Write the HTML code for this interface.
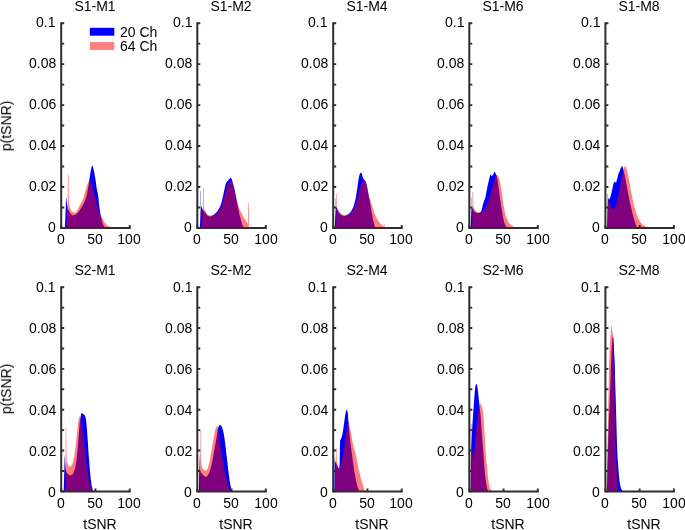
<!DOCTYPE html>
<html><head><meta charset="utf-8"><title>tSNR histograms</title>
<style>
html,body{margin:0;padding:0;background:#fff;}
body{width:685px;height:530px;position:relative;overflow:hidden;font-family:"Liberation Sans",sans-serif;}
.t{position:absolute;font-size:14.00px;line-height:16px;will-change:transform;color:#000;white-space:nowrap;}
</style></head><body>
<svg width="685" height="530" viewBox="0 0 685 530" style="position:absolute;left:0;top:0">
<path d="M64.97,227.90 L64.97,227.68 L65.22,220.06 L65.47,213.12 L65.70,207.41 L65.72,206.85 L65.97,200.03 L66.20,196.89 L66.22,196.91 L66.47,198.95 L66.72,202.16 L66.80,202.92 L66.97,204.44 L67.22,206.44 L67.40,207.41 L67.47,207.67 L67.72,208.43 L67.97,209.01 L68.22,209.50 L68.47,209.98 L68.50,210.04 L68.72,210.48 L68.97,210.97 L69.22,211.43 L69.47,211.87 L69.72,212.29 L69.97,212.66 L70.21,212.98 L70.22,213.00 L70.47,213.34 L70.72,213.69 L70.97,214.03 L71.22,214.36 L71.47,214.65 L71.72,214.91 L71.97,215.11 L72.22,215.25 L72.47,215.30 L72.50,215.30 L72.72,215.30 L72.97,215.28 L73.22,215.26 L73.47,215.23 L73.72,215.19 L73.97,215.15 L74.22,215.10 L74.47,215.04 L74.71,214.99 L74.72,214.99 L74.97,214.91 L75.22,214.80 L75.47,214.66 L75.72,214.49 L75.97,214.31 L76.22,214.11 L76.47,213.90 L76.72,213.68 L76.97,213.46 L77.00,213.44 L77.22,213.24 L77.47,213.00 L77.72,212.74 L77.97,212.47 L78.22,212.18 L78.47,211.88 L78.72,211.56 L78.97,211.24 L79.22,210.90 L79.47,210.55 L79.72,210.19 L79.97,209.82 L80.22,209.44 L80.47,209.06 L80.72,208.66 L80.97,208.26 L81.22,207.86 L81.47,207.45 L81.50,207.41 L81.72,207.04 L81.97,206.62 L82.22,206.20 L82.47,205.77 L82.72,205.32 L82.97,204.87 L83.22,204.40 L83.47,203.92 L83.72,203.42 L83.97,202.89 L84.22,202.35 L84.47,201.78 L84.72,201.19 L84.97,200.56 L85.22,199.91 L85.47,199.23 L85.72,198.51 L85.80,198.28 L85.97,197.74 L86.22,196.88 L86.47,195.94 L86.72,194.91 L86.97,193.81 L87.22,192.63 L87.47,191.40 L87.72,190.10 L87.97,188.76 L88.22,187.37 L88.29,186.98 L88.47,185.87 L88.72,184.12 L88.97,182.27 L89.22,180.47 L89.27,180.17 L89.47,178.79 L89.72,177.11 L89.97,175.48 L90.22,173.94 L90.35,173.21 L90.47,172.52 L90.72,171.15 L90.97,169.87 L91.22,168.78 L91.28,168.57 L91.47,167.83 L91.72,166.87 L91.97,166.06 L92.22,165.56 L92.36,165.47 L92.47,165.52 L92.72,165.94 L92.97,166.72 L93.22,167.73 L93.47,168.88 L93.72,170.06 L93.91,170.89 L93.97,171.17 L94.22,172.34 L94.47,173.63 L94.72,175.01 L94.97,176.46 L95.22,177.97 L95.46,179.40 L95.47,179.50 L95.72,181.18 L95.97,183.02 L96.22,184.93 L96.47,186.81 L96.72,188.55 L96.97,190.07 L97.01,190.23 L97.22,191.26 L97.47,192.23 L97.72,193.17 L97.97,194.28 L98.10,195.00 L98.22,195.82 L98.47,198.08 L98.72,200.74 L98.97,203.41 L99.20,205.50 L99.22,205.68 L99.47,207.61 L99.72,209.40 L99.97,211.06 L100.19,212.41 L100.22,212.59 L100.47,213.99 L100.72,215.30 L100.97,216.53 L101.22,217.70 L101.29,218.01 L101.47,218.85 L101.72,219.98 L101.97,221.03 L102.22,221.96 L102.30,222.20 L102.47,222.74 L102.72,223.44 L102.97,224.07 L103.22,224.64 L103.40,225.00 L103.47,225.16 L103.72,225.66 L103.97,226.12 L104.22,226.50 L104.40,226.70 L104.47,226.77 L104.72,226.96 L104.97,227.12 L105.10,227.20 L105.22,227.29 L105.47,227.45 L105.72,227.61 L105.83,227.68 L105.83,227.90 Z" fill="#0000ff"/>
<path d="M66.44,227.90 L66.44,227.68 L66.69,214.81 L66.94,206.79 L67.00,206.17 L67.19,205.44 L67.44,205.05 L67.69,204.03 L67.70,204.00 L67.92,174.45 L67.94,174.45 L68.19,174.45 L68.44,174.45 L68.62,174.45 L68.68,192.55 L68.69,193.40 L68.94,201.49 L69.06,202.77 L69.19,203.95 L69.44,205.68 L69.69,206.91 L69.94,207.79 L70.19,208.47 L70.21,208.49 L70.44,209.06 L70.69,209.60 L70.94,210.09 L71.19,210.52 L71.44,210.90 L71.69,211.23 L71.94,211.51 L72.19,211.72 L72.44,211.89 L72.46,211.90 L72.69,212.01 L72.94,212.13 L73.19,212.24 L73.44,212.34 L73.69,212.42 L73.94,212.49 L74.19,212.55 L74.44,212.58 L74.69,212.59 L74.71,212.59 L74.94,212.56 L75.19,212.48 L75.44,212.34 L75.69,212.16 L75.94,211.95 L76.19,211.70 L76.44,211.44 L76.69,211.16 L76.94,210.87 L77.00,210.81 L77.19,210.55 L77.44,210.13 L77.69,209.63 L77.94,209.08 L78.19,208.51 L78.44,207.95 L78.69,207.42 L78.70,207.41 L78.94,206.92 L79.19,206.44 L79.44,205.96 L79.69,205.49 L79.94,205.03 L80.19,204.56 L80.44,204.10 L80.69,203.63 L80.94,203.16 L81.19,202.68 L81.44,202.19 L81.69,201.69 L81.94,201.18 L82.19,200.64 L82.44,200.09 L82.69,199.52 L82.94,198.92 L83.19,198.30 L83.20,198.28 L83.44,197.63 L83.69,196.90 L83.94,196.13 L84.19,195.31 L84.44,194.45 L84.69,193.58 L84.94,192.68 L85.19,191.78 L85.44,190.88 L85.69,189.98 L85.94,189.11 L86.19,188.26 L86.44,187.44 L86.59,186.98 L86.69,186.66 L86.94,185.87 L87.19,185.07 L87.44,184.30 L87.69,183.60 L87.94,182.99 L88.03,182.80 L88.19,182.46 L88.44,181.93 L88.69,181.41 L88.94,180.95 L89.19,180.56 L89.44,180.29 L89.69,180.18 L89.73,180.17 L89.94,180.25 L90.19,180.51 L90.44,180.92 L90.69,181.44 L90.94,182.01 L91.19,182.60 L91.28,182.80 L91.44,183.23 L91.69,184.02 L91.94,184.94 L92.19,185.91 L92.44,186.87 L92.52,187.14 L92.69,187.79 L92.94,188.73 L93.19,189.68 L93.44,190.65 L93.60,191.25 L93.69,191.61 L93.94,192.58 L94.19,193.56 L94.44,194.54 L94.69,195.53 L94.94,196.53 L94.99,196.73 L95.19,197.55 L95.44,198.58 L95.69,199.62 L95.94,200.66 L96.19,201.69 L96.29,202.10 L96.44,202.73 L96.69,203.82 L96.94,204.94 L97.19,206.05 L97.44,207.14 L97.69,208.18 L97.94,209.13 L98.19,209.97 L98.31,210.30 L98.44,210.69 L98.69,211.34 L98.94,211.94 L99.19,212.49 L99.44,213.02 L99.69,213.51 L99.94,214.00 L100.10,214.29 L100.19,214.47 L100.44,214.92 L100.69,215.34 L100.94,215.74 L101.19,216.13 L101.44,216.53 L101.69,216.93 L101.94,217.36 L102.00,217.47 L102.19,217.82 L102.44,218.31 L102.69,218.81 L102.94,219.33 L103.19,219.84 L103.44,220.34 L103.69,220.82 L103.94,221.26 L104.09,221.50 L104.19,221.66 L104.44,222.05 L104.69,222.42 L104.94,222.77 L105.19,223.11 L105.44,223.44 L105.69,223.74 L105.94,224.03 L106.19,224.30 L106.20,224.31 L106.44,224.56 L106.69,224.81 L106.94,225.05 L107.19,225.28 L107.44,225.49 L107.69,225.69 L107.94,225.87 L108.19,226.04 L108.30,226.10 L108.44,226.18 L108.69,226.33 L108.94,226.46 L109.19,226.59 L109.44,226.71 L109.69,226.82 L109.94,226.90 L110.19,226.97 L110.34,227.00 L110.44,227.01 L110.69,227.05 L110.94,227.07 L111.19,227.09 L111.44,227.11 L111.69,227.13 L111.94,227.15 L112.19,227.17 L112.40,227.20 L112.44,227.20 L112.69,227.24 L112.94,227.28 L113.19,227.32 L113.44,227.37 L113.69,227.42 L113.94,227.47 L114.19,227.53 L114.44,227.59 L114.69,227.65 L114.80,227.68 L114.80,227.90 Z" fill="#ff0000" fill-opacity="0.5"/>
<line x1="72.25" y1="214.22" x2="72.25" y2="227.90" stroke="#ff0000" stroke-width="0.50" stroke-opacity="0.25"/>
<path d="M61.20,22.25 V227.90 H130.70" fill="none" stroke="#2e2e2e" stroke-width="2" stroke-linejoin="miter"/>
<path d="M61.20,227.90 h3 M61.20,207.43 h3 M61.20,186.96 h3 M61.20,166.49 h3 M61.20,146.02 h3 M61.20,125.55 h3 M61.20,105.08 h3 M61.20,84.61 h3 M61.20,64.14 h3 M61.20,43.67 h3 M61.20,23.20 h3 M61.20,227.90 v-3 M95.45,227.90 v-3 M129.70,227.90 v-3 " stroke="#2e2e2e" stroke-width="1.9" fill="none"/>
<path d="M199.90,227.90 L199.90,227.70 L200.15,222.71 L200.40,218.21 L200.60,215.00 L200.65,214.22 L200.90,209.98 L201.15,206.68 L201.30,206.00 L201.40,206.11 L201.65,207.04 L201.90,208.00 L202.15,208.56 L202.40,209.05 L202.65,209.47 L202.90,209.85 L203.00,210.00 L203.15,210.21 L203.40,210.52 L203.65,210.80 L203.90,211.08 L204.00,211.20 L204.15,211.37 L204.40,211.65 L204.65,211.92 L204.90,212.21 L205.06,212.40 L205.15,212.51 L205.40,212.87 L205.65,213.26 L205.90,213.67 L206.15,214.09 L206.40,214.48 L206.65,214.85 L206.90,215.16 L207.15,215.40 L207.30,215.50 L207.40,215.56 L207.65,215.70 L207.90,215.83 L208.15,215.95 L208.40,216.07 L208.65,216.18 L208.90,216.27 L209.15,216.35 L209.40,216.41 L209.65,216.46 L209.90,216.49 L210.15,216.50 L210.40,216.47 L210.65,216.39 L210.90,216.28 L211.15,216.14 L211.40,216.00 L211.60,215.90 L211.65,215.88 L211.90,215.75 L212.15,215.62 L212.40,215.48 L212.65,215.33 L212.90,215.18 L213.15,215.03 L213.40,214.86 L213.65,214.69 L213.90,214.52 L214.15,214.34 L214.40,214.15 L214.65,213.96 L214.90,213.75 L215.15,213.54 L215.40,213.32 L215.65,213.09 L215.90,212.85 L216.15,212.60 L216.40,212.34 L216.65,212.07 L216.90,211.78 L217.15,211.48 L217.30,211.30 L217.40,211.17 L217.65,210.84 L217.90,210.49 L218.15,210.11 L218.40,209.72 L218.65,209.30 L218.90,208.86 L219.15,208.39 L219.40,207.91 L219.60,207.50 L219.65,207.40 L219.90,206.85 L220.15,206.26 L220.40,205.63 L220.65,204.96 L220.90,204.26 L221.15,203.51 L221.40,202.72 L221.50,202.40 L221.65,201.89 L221.90,200.96 L222.15,199.95 L222.40,198.89 L222.65,197.80 L222.90,196.70 L223.15,195.57 L223.40,194.38 L223.65,193.17 L223.90,191.96 L224.15,190.78 L224.30,190.10 L224.40,189.65 L224.65,188.49 L224.90,187.31 L225.15,186.19 L225.40,185.16 L225.65,184.29 L225.75,184.00 L225.90,183.60 L226.15,183.00 L226.40,182.47 L226.65,182.00 L226.90,181.60 L227.15,181.25 L227.40,180.94 L227.65,180.65 L227.90,180.39 L228.15,180.14 L228.40,179.90 L228.60,179.70 L228.65,179.65 L228.90,179.41 L229.15,179.17 L229.40,178.94 L229.65,178.73 L229.80,178.60 L229.90,178.51 L230.15,178.26 L230.40,178.02 L230.65,177.85 L230.85,177.80 L230.90,177.81 L231.15,178.04 L231.40,178.52 L231.65,179.15 L231.90,179.80 L232.15,180.57 L232.40,181.54 L232.65,182.54 L232.80,183.10 L232.90,183.45 L233.15,184.28 L233.40,185.08 L233.65,185.89 L233.90,186.75 L234.15,187.70 L234.40,188.77 L234.65,189.96 L234.90,191.21 L235.15,192.51 L235.40,193.79 L235.50,194.30 L235.65,195.06 L235.90,196.34 L236.15,197.63 L236.40,198.93 L236.65,200.23 L236.80,201.00 L236.90,201.51 L237.15,202.78 L237.40,204.05 L237.65,205.32 L237.90,206.59 L238.10,207.60 L238.15,207.86 L238.40,209.16 L238.65,210.50 L238.90,211.81 L239.15,213.06 L239.40,214.20 L239.65,215.23 L239.90,216.18 L240.15,217.09 L240.40,217.97 L240.65,218.86 L240.80,219.40 L240.90,219.77 L241.15,220.75 L241.40,221.73 L241.65,222.68 L241.90,223.53 L242.10,224.10 L242.15,224.23 L242.40,224.81 L242.65,225.33 L242.90,225.81 L243.15,226.26 L243.40,226.70 L243.65,227.13 L243.90,227.54 L244.00,227.70 L244.00,227.90 Z" fill="#0000ff"/>
<line x1="200.50" y1="191.00" x2="200.50" y2="227.90" stroke="#0000ff" stroke-width="0.60" stroke-opacity="0.55"/>
<path d="M201.70,227.90 L201.70,227.70 L201.95,215.31 L202.20,209.00 L202.45,208.64 L202.70,208.52 L202.95,208.15 L203.00,208.00 L203.10,188.10 L203.20,188.10 L203.45,188.10 L203.70,188.10 L203.70,188.10 L203.90,207.40 L203.95,207.75 L204.20,209.05 L204.45,209.80 L204.70,210.23 L204.95,210.60 L205.06,210.80 L205.20,211.09 L205.45,211.58 L205.70,212.06 L205.95,212.50 L206.20,212.91 L206.45,213.28 L206.70,213.61 L206.95,213.89 L207.20,214.12 L207.30,214.20 L207.45,214.31 L207.70,214.48 L207.95,214.65 L208.20,214.81 L208.45,214.96 L208.70,215.09 L208.95,215.21 L209.20,215.31 L209.45,215.40 L209.70,215.46 L209.95,215.49 L210.15,215.50 L210.20,215.50 L210.45,215.50 L210.70,215.48 L210.95,215.47 L211.20,215.45 L211.45,215.42 L211.70,215.39 L211.95,215.36 L212.20,215.33 L212.40,215.30 L212.45,215.29 L212.70,215.24 L212.95,215.18 L213.20,215.10 L213.45,215.01 L213.70,214.91 L213.95,214.80 L214.20,214.69 L214.40,214.60 L214.45,214.58 L214.70,214.45 L214.95,214.31 L215.20,214.16 L215.45,214.00 L215.70,213.83 L215.95,213.64 L216.20,213.45 L216.45,213.25 L216.70,213.04 L216.95,212.82 L217.20,212.59 L217.30,212.50 L217.45,212.36 L217.70,212.10 L217.95,211.82 L218.20,211.53 L218.45,211.21 L218.70,210.89 L218.95,210.54 L219.20,210.19 L219.45,209.82 L219.60,209.60 L219.70,209.45 L219.95,209.05 L220.20,208.63 L220.45,208.18 L220.70,207.71 L220.95,207.20 L221.00,207.10 L221.20,206.67 L221.45,206.09 L221.70,205.47 L221.95,204.82 L222.20,204.14 L222.45,203.44 L222.60,203.00 L222.70,202.70 L222.95,201.93 L223.20,201.11 L223.45,200.24 L223.70,199.34 L223.90,198.60 L223.95,198.41 L224.20,197.40 L224.45,196.32 L224.70,195.21 L224.95,194.13 L225.10,193.50 L225.20,193.09 L225.45,192.07 L225.70,191.07 L225.95,190.09 L226.20,189.15 L226.45,188.21 L226.70,187.26 L226.95,186.34 L227.20,185.49 L227.45,184.76 L227.60,184.40 L227.70,184.18 L227.95,183.67 L228.20,183.19 L228.45,182.77 L228.70,182.39 L228.95,182.07 L229.20,181.80 L229.45,181.56 L229.70,181.34 L229.95,181.15 L230.20,181.00 L230.45,180.91 L230.50,180.90 L230.70,180.87 L230.95,180.83 L231.20,180.81 L231.45,180.80 L231.50,180.80 L231.70,180.92 L231.95,181.31 L232.20,181.80 L232.45,182.37 L232.70,183.10 L232.95,183.94 L233.20,184.86 L233.45,185.81 L233.50,186.00 L233.70,186.81 L233.95,187.92 L234.20,189.11 L234.45,190.35 L234.70,191.58 L234.95,192.77 L235.00,193.00 L235.20,193.92 L235.45,195.10 L235.70,196.29 L235.95,197.46 L236.20,198.59 L236.45,199.65 L236.70,200.64 L236.80,201.00 L236.95,201.52 L237.20,202.32 L237.45,203.07 L237.70,203.78 L237.95,204.48 L238.10,204.90 L238.20,205.18 L238.45,205.89 L238.70,206.58 L238.95,207.27 L239.20,207.94 L239.45,208.60 L239.70,209.24 L239.95,209.85 L240.10,210.20 L240.20,210.43 L240.45,210.99 L240.70,211.54 L240.95,212.07 L241.20,212.59 L241.45,213.10 L241.70,213.60 L241.95,214.08 L242.20,214.56 L242.45,215.03 L242.70,215.50 L242.95,215.96 L243.20,216.42 L243.45,216.86 L243.70,217.30 L243.95,217.74 L244.20,218.16 L244.45,218.58 L244.70,218.99 L244.95,219.40 L245.20,219.79 L245.40,220.10 L245.45,220.18 L245.70,220.60 L245.95,221.05 L246.20,221.51 L246.45,221.98 L246.70,222.41 L246.95,222.81 L247.20,223.15 L247.45,223.40 L247.70,223.56 L247.90,223.60 L247.95,220.37 L248.10,202.90 L248.20,202.90 L248.45,202.90 L248.70,202.90 L248.70,202.90 L248.95,227.70 L248.95,227.90 Z" fill="#ff0000" fill-opacity="0.5"/>
<path d="M197.30,22.25 V227.90 H266.80" fill="none" stroke="#2e2e2e" stroke-width="2" stroke-linejoin="miter"/>
<path d="M197.30,227.90 h3 M197.30,207.43 h3 M197.30,186.96 h3 M197.30,166.49 h3 M197.30,146.02 h3 M197.30,125.55 h3 M197.30,105.08 h3 M197.30,84.61 h3 M197.30,64.14 h3 M197.30,43.67 h3 M197.30,23.20 h3 M197.30,227.90 v-3 M231.55,227.90 v-3 M265.80,227.90 v-3 " stroke="#2e2e2e" stroke-width="1.9" fill="none"/>
<path d="M334.70,227.90 L334.70,227.70 L334.95,222.77 L335.20,218.28 L335.40,215.00 L335.45,214.18 L335.70,209.93 L335.90,208.00 L335.95,207.85 L336.20,207.35 L336.30,207.30 L336.45,207.38 L336.70,207.79 L336.95,208.36 L337.15,208.80 L337.20,208.90 L337.45,209.45 L337.70,210.06 L337.95,210.69 L338.20,211.31 L338.45,211.86 L338.70,212.32 L338.75,212.40 L338.95,212.69 L339.20,213.04 L339.45,213.37 L339.70,213.68 L339.95,213.97 L340.20,214.23 L340.45,214.47 L340.70,214.68 L340.95,214.86 L341.20,215.00 L341.45,215.13 L341.70,215.25 L341.95,215.37 L342.20,215.48 L342.45,215.58 L342.70,215.68 L342.95,215.76 L343.20,215.84 L343.45,215.90 L343.70,215.95 L343.95,215.98 L344.20,216.00 L344.30,216.00 L344.45,216.00 L344.70,215.97 L344.95,215.92 L345.20,215.84 L345.45,215.75 L345.70,215.65 L345.95,215.53 L346.20,215.40 L346.45,215.27 L346.70,215.13 L346.95,214.99 L347.20,214.85 L347.30,214.80 L347.45,214.72 L347.70,214.57 L347.95,214.41 L348.20,214.24 L348.45,214.05 L348.70,213.86 L348.95,213.65 L349.20,213.43 L349.45,213.20 L349.70,212.95 L349.95,212.69 L350.20,212.42 L350.40,212.20 L350.45,212.14 L350.70,211.84 L350.95,211.50 L351.20,211.13 L351.45,210.73 L351.70,210.31 L351.95,209.86 L352.20,209.38 L352.45,208.87 L352.70,208.34 L352.90,207.90 L352.95,207.79 L353.20,207.16 L353.45,206.47 L353.70,205.70 L353.95,204.89 L354.20,204.05 L354.45,203.18 L354.50,203.00 L354.70,202.28 L354.95,201.35 L355.20,200.35 L355.45,199.27 L355.70,198.10 L355.95,196.79 L356.20,195.32 L356.45,193.75 L356.70,192.12 L356.90,190.80 L356.95,190.47 L357.20,188.70 L357.45,186.84 L357.70,184.97 L357.95,183.19 L358.10,182.20 L358.20,181.56 L358.45,179.98 L358.70,178.49 L358.95,177.17 L359.10,176.50 L359.20,176.09 L359.45,175.12 L359.70,174.28 L359.95,173.68 L360.00,173.60 L360.20,173.30 L360.45,172.98 L360.70,172.76 L360.90,172.70 L360.95,172.70 L361.20,172.83 L361.45,173.10 L361.70,173.46 L361.90,173.80 L361.95,173.90 L362.20,174.75 L362.45,175.90 L362.70,176.97 L362.80,177.30 L362.95,177.71 L363.20,178.34 L363.45,178.88 L363.70,179.30 L363.95,179.60 L364.20,179.83 L364.45,180.04 L364.70,180.27 L364.90,180.50 L364.95,180.57 L365.20,180.96 L365.45,181.43 L365.70,181.97 L365.80,182.20 L365.95,182.57 L366.20,183.27 L366.45,184.08 L366.70,185.00 L366.95,186.11 L367.20,187.43 L367.45,188.86 L367.70,190.30 L367.90,191.40 L367.95,191.66 L368.20,192.95 L368.45,194.22 L368.70,195.49 L368.95,196.80 L369.10,197.60 L369.20,198.15 L369.45,199.57 L369.70,201.00 L369.95,202.39 L370.20,203.75 L370.45,205.11 L370.70,206.49 L370.95,207.90 L371.20,209.36 L371.45,210.88 L371.70,212.40 L371.95,213.88 L372.20,215.30 L372.45,216.67 L372.70,218.01 L372.95,219.31 L373.20,220.52 L373.40,221.40 L373.45,221.61 L373.70,222.59 L373.95,223.49 L374.20,224.35 L374.45,225.19 L374.60,225.70 L374.70,226.04 L374.95,226.88 L375.20,227.70 L375.20,227.90 Z" fill="#0000ff"/>
<line x1="335.70" y1="198.70" x2="335.70" y2="227.90" stroke="#0000ff" stroke-width="0.60" stroke-opacity="0.50"/>
<path d="M336.20,227.90 L336.20,227.70 L336.34,208.00 L336.40,193.80 L336.45,193.80 L336.70,193.80 L336.95,193.80 L337.00,193.80 L337.06,206.00 L337.15,207.70 L337.20,207.92 L337.45,208.84 L337.70,209.46 L337.95,209.88 L338.20,210.18 L338.45,210.44 L338.70,210.73 L338.75,210.80 L338.95,211.09 L339.20,211.44 L339.45,211.78 L339.70,212.11 L339.95,212.42 L340.20,212.70 L340.45,212.97 L340.70,213.21 L340.95,213.42 L341.20,213.60 L341.45,213.76 L341.70,213.93 L341.95,214.09 L342.20,214.25 L342.45,214.39 L342.70,214.53 L342.95,214.65 L343.20,214.76 L343.45,214.85 L343.70,214.92 L343.95,214.97 L344.20,215.00 L344.30,215.00 L344.45,215.00 L344.70,214.99 L344.95,214.98 L345.20,214.97 L345.45,214.95 L345.70,214.93 L345.95,214.90 L346.20,214.87 L346.45,214.84 L346.70,214.80 L346.95,214.76 L347.20,214.72 L347.30,214.70 L347.45,214.67 L347.70,214.58 L347.95,214.45 L348.20,214.31 L348.45,214.15 L348.70,213.99 L348.95,213.84 L349.20,213.70 L349.45,213.58 L349.70,213.47 L349.95,213.35 L350.20,213.22 L350.40,213.10 L350.45,213.07 L350.70,212.88 L350.95,212.66 L351.20,212.42 L351.45,212.15 L351.70,211.86 L351.95,211.55 L352.20,211.22 L352.45,210.87 L352.70,210.50 L352.90,210.20 L352.95,210.12 L353.20,209.70 L353.45,209.24 L353.70,208.73 L353.95,208.19 L354.20,207.61 L354.45,207.01 L354.70,206.38 L354.95,205.74 L355.20,205.09 L355.45,204.43 L355.50,204.30 L355.70,203.76 L355.95,203.06 L356.20,202.33 L356.45,201.58 L356.70,200.79 L356.95,199.98 L357.20,199.14 L357.45,198.28 L357.50,198.10 L357.70,197.37 L357.95,196.39 L358.20,195.36 L358.45,194.31 L358.70,193.25 L358.95,192.20 L359.20,191.19 L359.30,190.80 L359.45,190.21 L359.70,189.20 L359.95,188.17 L360.20,187.18 L360.45,186.24 L360.70,185.41 L360.95,184.72 L361.00,184.60 L361.20,184.15 L361.45,183.63 L361.70,183.15 L361.95,182.72 L362.20,182.33 L362.45,181.99 L362.70,181.70 L362.80,181.60 L362.95,181.45 L363.20,181.21 L363.45,180.99 L363.70,180.82 L363.95,180.72 L364.10,180.70 L364.20,180.70 L364.45,180.75 L364.70,180.84 L364.95,180.98 L365.20,181.15 L365.45,181.36 L365.70,181.60 L365.95,182.03 L366.20,182.75 L366.45,183.65 L366.70,184.60 L366.95,185.68 L367.20,186.97 L367.45,188.37 L367.70,189.76 L367.90,190.80 L367.95,191.05 L368.20,192.32 L368.45,193.60 L368.70,194.83 L368.95,195.95 L369.20,196.90 L369.45,197.68 L369.70,198.34 L369.95,198.95 L370.20,199.55 L370.45,200.18 L370.60,200.60 L370.70,200.90 L370.95,201.67 L371.20,202.49 L371.45,203.33 L371.70,204.19 L371.95,205.06 L372.20,205.92 L372.45,206.77 L372.70,207.58 L372.80,207.90 L372.95,208.37 L373.20,209.15 L373.45,209.94 L373.70,210.71 L373.95,211.47 L374.20,212.21 L374.45,212.92 L374.70,213.59 L374.90,214.10 L374.95,214.22 L375.20,214.83 L375.45,215.43 L375.70,216.01 L375.95,216.57 L376.20,217.12 L376.45,217.64 L376.70,218.15 L376.95,218.63 L377.20,219.09 L377.45,219.52 L377.50,219.60 L377.70,219.92 L377.95,220.31 L378.20,220.69 L378.45,221.05 L378.70,221.39 L378.95,221.72 L379.20,222.04 L379.45,222.35 L379.70,222.65 L379.95,222.94 L380.00,223.00 L380.20,223.23 L380.45,223.51 L380.70,223.78 L380.95,224.04 L381.20,224.29 L381.45,224.53 L381.70,224.77 L381.95,224.99 L382.20,225.20 L382.45,225.42 L382.70,225.66 L382.95,225.89 L383.20,226.07 L383.45,226.18 L383.60,226.20 L383.70,225.99 L383.95,224.39 L384.20,223.30 L384.45,224.56 L384.70,227.70 L384.70,227.90 Z" fill="#ff0000" fill-opacity="0.5"/>
<path d="M333.20,22.25 V227.90 H402.70" fill="none" stroke="#2e2e2e" stroke-width="2" stroke-linejoin="miter"/>
<path d="M333.20,227.90 h3 M333.20,207.43 h3 M333.20,186.96 h3 M333.20,166.49 h3 M333.20,146.02 h3 M333.20,125.55 h3 M333.20,105.08 h3 M333.20,84.61 h3 M333.20,64.14 h3 M333.20,43.67 h3 M333.20,23.20 h3 M333.20,227.90 v-3 M367.45,227.90 v-3 M401.70,227.90 v-3 " stroke="#2e2e2e" stroke-width="1.9" fill="none"/>
<path d="M470.70,227.90 L470.70,227.70 L470.95,220.77 L471.20,215.00 L471.45,209.72 L471.60,208.00 L471.70,207.64 L471.90,207.30 L471.95,207.31 L472.20,207.52 L472.45,207.96 L472.70,208.54 L472.95,209.17 L473.20,209.76 L473.45,210.23 L473.50,210.30 L473.70,210.56 L473.95,210.87 L474.20,211.17 L474.45,211.44 L474.70,211.69 L474.95,211.90 L475.20,212.08 L475.40,212.20 L475.45,212.23 L475.70,212.35 L475.95,212.47 L476.20,212.59 L476.45,212.69 L476.70,212.79 L476.95,212.87 L477.20,212.93 L477.45,212.98 L477.70,213.00 L477.80,213.00 L477.95,213.00 L478.20,212.98 L478.45,212.94 L478.70,212.88 L478.95,212.81 L479.20,212.73 L479.45,212.63 L479.70,212.51 L479.95,212.39 L480.20,212.26 L480.30,212.20 L480.45,212.09 L480.70,211.83 L480.95,211.46 L481.20,211.02 L481.45,210.51 L481.50,210.40 L481.70,209.84 L481.95,208.86 L482.20,207.71 L482.45,206.54 L482.70,205.50 L482.95,204.57 L483.20,203.66 L483.45,202.78 L483.70,201.96 L483.95,201.20 L484.20,200.55 L484.45,199.99 L484.70,199.45 L484.95,198.84 L485.20,198.10 L485.45,197.10 L485.70,195.85 L485.95,194.47 L486.20,193.07 L486.40,192.00 L486.45,191.75 L486.70,190.45 L486.95,189.15 L487.20,187.86 L487.45,186.61 L487.60,185.90 L487.70,185.44 L487.95,184.32 L488.20,183.24 L488.45,182.18 L488.70,181.14 L488.90,180.30 L488.95,180.09 L489.20,178.97 L489.45,177.83 L489.70,176.76 L489.95,175.84 L490.10,175.40 L490.20,175.13 L490.45,174.49 L490.70,174.20 L490.95,174.54 L491.20,175.25 L491.45,175.87 L491.60,176.00 L491.70,175.99 L491.95,175.88 L492.20,175.68 L492.45,175.45 L492.50,175.40 L492.70,175.15 L492.95,174.71 L493.20,174.18 L493.45,173.65 L493.70,173.16 L493.80,173.00 L493.95,172.75 L494.20,172.32 L494.45,171.95 L494.70,171.76 L494.75,171.75 L494.95,171.93 L495.20,172.50 L495.45,173.22 L495.60,173.60 L495.70,173.83 L495.95,174.42 L496.20,175.00 L496.45,175.49 L496.70,175.98 L496.90,176.50 L496.95,176.67 L497.20,177.83 L497.45,179.36 L497.70,181.00 L497.95,182.75 L498.20,184.71 L498.45,186.75 L498.70,188.74 L498.80,189.50 L498.95,190.61 L499.20,192.44 L499.45,194.24 L499.70,196.01 L499.95,197.76 L500.00,198.10 L500.20,199.47 L500.45,201.15 L500.70,202.81 L500.95,204.45 L501.20,206.06 L501.30,206.70 L501.45,207.66 L501.70,209.26 L501.95,210.83 L502.20,212.36 L502.45,213.82 L502.50,214.10 L502.70,215.21 L502.95,216.58 L503.20,217.89 L503.45,219.11 L503.70,220.20 L503.95,221.21 L504.20,222.17 L504.45,223.05 L504.70,223.81 L504.90,224.30 L504.95,224.41 L505.20,224.90 L505.45,225.33 L505.70,225.72 L505.95,226.06 L506.20,226.38 L506.30,226.50 L506.45,226.68 L506.70,226.96 L506.95,227.22 L507.20,227.46 L507.45,227.66 L507.50,227.70 L507.50,227.90 Z" fill="#0000ff"/>
<line x1="471.40" y1="197.50" x2="471.40" y2="227.90" stroke="#0000ff" stroke-width="0.60" stroke-opacity="0.50"/>
<path d="M472.20,227.90 L472.20,227.70 L472.34,206.00 L472.40,192.20 L472.45,192.20 L472.70,192.20 L472.95,192.20 L473.00,192.20 L473.06,203.00 L473.15,205.50 L473.20,205.78 L473.45,206.90 L473.70,207.66 L473.95,208.16 L474.20,208.50 L474.45,208.79 L474.70,209.12 L474.75,209.20 L474.95,209.53 L475.20,209.93 L475.45,210.32 L475.70,210.67 L475.95,210.99 L476.20,211.27 L476.45,211.49 L476.60,211.60 L476.70,211.66 L476.95,211.82 L477.20,211.97 L477.45,212.12 L477.70,212.25 L477.95,212.36 L478.20,212.46 L478.45,212.53 L478.70,212.58 L478.95,212.60 L479.00,212.60 L479.20,212.59 L479.45,212.55 L479.70,212.49 L479.95,212.42 L480.20,212.33 L480.30,212.30 L480.45,212.24 L480.70,212.12 L480.95,211.96 L481.20,211.80 L481.45,211.63 L481.50,211.60 L481.70,211.47 L481.95,211.31 L482.20,211.16 L482.45,210.99 L482.70,210.82 L482.95,210.65 L483.20,210.46 L483.45,210.26 L483.70,210.04 L483.95,209.80 L484.20,209.54 L484.45,209.24 L484.70,208.91 L484.95,208.55 L485.20,208.17 L485.45,207.77 L485.70,207.35 L485.95,206.92 L486.20,206.47 L486.40,206.10 L486.45,206.01 L486.70,205.52 L486.95,205.00 L487.20,204.44 L487.45,203.86 L487.70,203.24 L487.95,202.60 L488.20,201.94 L488.25,201.80 L488.45,201.24 L488.70,200.49 L488.95,199.71 L489.20,198.88 L489.45,198.03 L489.70,197.15 L489.95,196.25 L490.10,195.70 L490.20,195.33 L490.45,194.35 L490.70,193.31 L490.95,192.25 L491.20,191.17 L491.45,190.11 L491.70,189.08 L491.90,188.30 L491.95,188.11 L492.20,187.17 L492.45,186.23 L492.70,185.32 L492.95,184.42 L493.20,183.55 L493.45,182.71 L493.70,181.91 L493.80,181.60 L493.95,181.14 L494.20,180.37 L494.45,179.61 L494.70,178.88 L494.95,178.19 L495.20,177.56 L495.45,177.00 L495.60,176.70 L495.70,176.51 L495.95,176.01 L496.20,175.53 L496.45,175.13 L496.70,174.87 L496.90,174.80 L496.95,174.80 L497.20,174.90 L497.45,175.11 L497.70,175.43 L497.95,175.83 L498.20,176.29 L498.45,176.78 L498.70,177.30 L498.95,177.94 L499.20,178.79 L499.45,179.78 L499.70,180.86 L499.95,181.98 L500.00,182.20 L500.20,183.12 L500.45,184.37 L500.70,185.71 L500.95,187.13 L501.20,188.60 L501.35,189.50 L501.45,190.12 L501.70,191.75 L501.95,193.47 L502.20,195.25 L502.45,197.04 L502.60,198.10 L502.70,198.81 L502.95,200.67 L503.20,202.55 L503.45,204.39 L503.70,206.08 L503.80,206.70 L503.95,207.59 L504.20,209.02 L504.45,210.36 L504.70,211.59 L504.95,212.70 L505.00,212.90 L505.20,213.69 L505.45,214.62 L505.70,215.51 L505.95,216.33 L506.20,217.11 L506.45,217.83 L506.70,218.50 L506.90,219.00 L506.95,219.12 L507.20,219.70 L507.45,220.26 L507.70,220.78 L507.95,221.26 L508.20,221.71 L508.45,222.13 L508.70,222.50 L508.95,222.84 L509.20,223.17 L509.45,223.48 L509.70,223.78 L509.95,224.06 L510.20,224.32 L510.45,224.56 L510.70,224.79 L510.95,225.00 L511.20,225.20 L511.45,225.38 L511.70,225.55 L511.95,225.70 L512.20,225.85 L512.45,225.99 L512.70,226.12 L512.95,226.25 L513.20,226.37 L513.45,226.50 L513.70,226.63 L513.95,226.76 L514.20,226.90 L514.45,227.04 L514.70,227.19 L514.95,227.33 L515.20,227.47 L515.45,227.61 L515.60,227.70 L515.60,227.90 Z" fill="#ff0000" fill-opacity="0.5"/>
<path d="M469.30,22.25 V227.90 H538.80" fill="none" stroke="#2e2e2e" stroke-width="2" stroke-linejoin="miter"/>
<path d="M469.30,227.90 h3 M469.30,207.43 h3 M469.30,186.96 h3 M469.30,166.49 h3 M469.30,146.02 h3 M469.30,125.55 h3 M469.30,105.08 h3 M469.30,84.61 h3 M469.30,64.14 h3 M469.30,43.67 h3 M469.30,23.20 h3 M469.30,227.90 v-3 M503.55,227.90 v-3 M537.80,227.90 v-3 " stroke="#2e2e2e" stroke-width="1.9" fill="none"/>
<path d="M607.00,227.90 L607.00,227.70 L607.25,219.63 L607.50,212.53 L607.60,210.00 L607.75,206.01 L608.00,199.73 L608.20,197.60 L608.25,197.62 L608.50,198.23 L608.75,199.14 L609.00,199.60 L609.25,199.45 L609.50,199.08 L609.75,198.60 L609.90,198.30 L610.00,198.09 L610.25,197.45 L610.50,196.67 L610.75,195.80 L611.00,194.86 L611.25,193.89 L611.30,193.70 L611.50,192.88 L611.75,191.73 L612.00,190.51 L612.25,189.29 L612.50,188.13 L612.60,187.70 L612.75,187.05 L613.00,185.90 L613.25,184.77 L613.50,183.77 L613.75,183.00 L613.90,182.70 L614.00,182.55 L614.25,182.20 L614.50,181.93 L614.75,181.80 L614.80,181.80 L615.00,181.86 L615.25,182.06 L615.50,182.29 L615.75,182.46 L615.90,182.50 L616.00,182.46 L616.25,182.01 L616.50,181.22 L616.75,180.24 L617.00,179.23 L617.20,178.50 L617.25,178.33 L617.50,177.45 L617.75,176.51 L618.00,175.58 L618.25,174.69 L618.50,173.90 L618.75,173.21 L619.00,172.59 L619.25,172.00 L619.50,171.43 L619.75,170.84 L619.85,170.60 L620.00,170.22 L620.25,169.57 L620.50,168.92 L620.75,168.29 L621.00,167.71 L621.20,167.30 L621.25,167.20 L621.50,166.69 L621.75,166.21 L622.00,165.93 L622.10,165.90 L622.25,166.01 L622.50,166.59 L622.75,167.40 L622.90,167.90 L623.00,168.24 L623.25,169.28 L623.50,170.39 L623.55,170.60 L623.75,171.43 L624.00,172.46 L624.25,173.49 L624.50,174.54 L624.75,175.62 L625.00,176.74 L625.10,177.20 L625.25,177.91 L625.50,179.15 L625.75,180.44 L626.00,181.76 L626.25,183.11 L626.50,184.47 L626.75,185.83 L627.00,187.17 L627.10,187.70 L627.25,188.50 L627.50,189.84 L627.75,191.19 L628.00,192.54 L628.25,193.89 L628.50,195.22 L628.75,196.53 L629.00,197.80 L629.10,198.30 L629.25,199.04 L629.50,200.26 L629.75,201.47 L630.00,202.65 L630.25,203.82 L630.50,204.96 L630.75,206.08 L631.00,207.17 L631.10,207.60 L631.25,208.24 L631.50,209.28 L631.75,210.30 L632.00,211.30 L632.25,212.28 L632.50,213.25 L632.75,214.19 L633.00,215.13 L633.10,215.50 L633.25,216.05 L633.50,216.97 L633.75,217.88 L634.00,218.77 L634.25,219.64 L634.50,220.49 L634.75,221.31 L635.00,222.10 L635.25,222.84 L635.50,223.55 L635.75,224.23 L636.00,224.90 L636.25,225.58 L636.40,226.00 L636.50,226.28 L636.75,226.99 L637.00,227.70 L637.00,227.90 Z" fill="#0000ff"/>
<path d="M606.90,227.90 L606.90,227.70 L607.15,209.74 L607.19,205.00 L607.25,194.10 L607.40,194.10 L607.65,194.10 L607.90,194.10 L607.95,194.10 L608.01,198.30 L608.15,198.88 L608.40,199.27 L608.60,199.60 L608.65,199.75 L608.90,200.68 L609.15,201.73 L609.30,202.30 L609.40,202.64 L609.65,203.49 L609.90,204.32 L610.15,205.08 L610.40,205.75 L610.60,206.20 L610.65,206.30 L610.90,206.79 L611.15,207.25 L611.40,207.65 L611.65,207.97 L611.90,208.20 L612.15,208.37 L612.40,208.53 L612.65,208.66 L612.90,208.78 L613.15,208.86 L613.40,208.90 L613.50,208.90 L613.65,208.88 L613.90,208.74 L614.15,208.50 L614.40,208.18 L614.65,207.81 L614.90,207.40 L615.15,206.98 L615.20,206.90 L615.40,206.53 L615.65,205.97 L615.90,205.32 L616.15,204.59 L616.40,203.80 L616.65,202.95 L616.90,202.08 L617.15,201.18 L617.20,201.00 L617.40,200.24 L617.65,199.21 L617.90,198.10 L618.15,196.93 L618.40,195.71 L618.65,194.46 L618.90,193.20 L619.15,191.95 L619.20,191.70 L619.40,190.69 L619.65,189.39 L619.90,188.06 L620.15,186.71 L620.40,185.35 L620.65,184.00 L620.90,182.66 L621.15,181.36 L621.20,181.10 L621.40,180.08 L621.65,178.82 L621.90,177.57 L622.15,176.34 L622.40,175.12 L622.65,173.92 L622.80,173.20 L622.90,172.72 L623.15,171.46 L623.40,170.23 L623.65,169.14 L623.80,168.60 L623.90,168.27 L624.15,167.43 L624.40,166.67 L624.65,166.11 L624.90,165.90 L625.15,166.06 L625.40,166.47 L625.65,166.99 L625.80,167.30 L625.90,167.51 L626.15,168.11 L626.40,168.82 L626.65,169.60 L626.90,170.45 L627.15,171.35 L627.30,171.90 L627.40,172.28 L627.65,173.34 L627.90,174.50 L628.15,175.73 L628.40,176.99 L628.65,178.25 L628.70,178.50 L628.90,179.50 L629.15,180.79 L629.40,182.10 L629.65,183.43 L629.90,184.77 L630.15,186.13 L630.20,186.40 L630.40,187.51 L630.65,188.94 L630.90,190.40 L631.15,191.84 L631.40,193.23 L631.60,194.30 L631.65,194.56 L631.90,195.83 L632.15,197.07 L632.40,198.28 L632.65,199.44 L632.90,200.57 L633.00,201.00 L633.15,201.64 L633.40,202.69 L633.65,203.72 L633.90,204.72 L634.15,205.70 L634.40,206.65 L634.65,207.57 L634.90,208.47 L635.15,209.33 L635.20,209.50 L635.40,210.17 L635.65,210.99 L635.90,211.80 L636.15,212.58 L636.40,213.34 L636.65,214.08 L636.90,214.78 L637.15,215.46 L637.40,216.10 L637.65,216.72 L637.90,217.32 L638.15,217.91 L638.40,218.48 L638.65,219.02 L638.90,219.54 L639.15,220.02 L639.40,220.47 L639.60,220.80 L639.65,220.88 L639.90,221.27 L640.15,221.64 L640.40,222.00 L640.65,222.35 L640.90,222.68 L641.15,222.99 L641.40,223.29 L641.65,223.58 L641.90,223.84 L642.15,224.09 L642.40,224.33 L642.60,224.50 L642.65,224.54 L642.90,224.74 L643.15,224.94 L643.40,225.12 L643.65,225.29 L643.90,225.46 L644.15,225.62 L644.40,225.77 L644.65,225.91 L644.90,226.05 L645.15,226.18 L645.40,226.30 L645.60,226.40 L645.65,226.42 L645.90,226.54 L646.15,226.66 L646.40,226.77 L646.65,226.88 L646.90,226.99 L647.15,227.09 L647.40,227.19 L647.65,227.28 L647.90,227.37 L648.15,227.45 L648.40,227.53 L648.65,227.61 L648.90,227.67 L649.00,227.70 L649.00,227.90 Z" fill="#ff0000" fill-opacity="0.5"/>
<path d="M605.40,22.25 V227.90 H674.90" fill="none" stroke="#2e2e2e" stroke-width="2" stroke-linejoin="miter"/>
<path d="M605.40,227.90 h3 M605.40,207.43 h3 M605.40,186.96 h3 M605.40,166.49 h3 M605.40,146.02 h3 M605.40,125.55 h3 M605.40,105.08 h3 M605.40,84.61 h3 M605.40,64.14 h3 M605.40,43.67 h3 M605.40,23.20 h3 M605.40,227.90 v-3 M639.65,227.90 v-3 M673.90,227.90 v-3 " stroke="#2e2e2e" stroke-width="1.9" fill="none"/>
<path d="M63.70,491.40 L63.70,491.30 L63.95,481.76 L64.20,472.80 L64.45,462.54 L64.70,455.27 L64.75,455.00 L64.95,457.67 L65.20,463.53 L65.25,464.30 L65.45,466.70 L65.70,469.14 L65.90,470.30 L65.95,470.47 L66.20,471.25 L66.45,471.89 L66.70,472.40 L66.95,472.82 L67.20,473.16 L67.45,473.44 L67.60,473.60 L67.70,473.70 L67.95,473.95 L68.20,474.19 L68.45,474.42 L68.70,474.63 L68.95,474.82 L69.20,474.98 L69.45,475.11 L69.70,475.21 L69.95,475.28 L70.20,475.30 L70.45,475.29 L70.70,475.26 L70.95,475.22 L71.20,475.16 L71.45,475.09 L71.70,475.00 L71.95,474.91 L72.20,474.80 L72.45,474.62 L72.70,474.33 L72.95,473.93 L73.20,473.44 L73.45,472.87 L73.70,472.24 L73.95,471.57 L74.20,470.87 L74.40,470.30 L74.45,470.15 L74.70,469.34 L74.95,468.40 L75.20,467.33 L75.45,466.15 L75.70,464.86 L75.95,463.48 L76.10,462.60 L76.20,461.98 L76.45,460.25 L76.70,458.27 L76.95,456.10 L77.20,453.76 L77.45,451.30 L77.50,450.80 L77.70,448.63 L77.95,445.59 L78.20,442.35 L78.45,439.09 L78.60,437.20 L78.70,435.94 L78.95,432.63 L79.20,429.30 L79.45,426.21 L79.70,423.60 L79.95,421.46 L80.20,419.60 L80.45,417.99 L80.50,417.70 L80.70,416.49 L80.95,414.97 L81.20,413.73 L81.45,413.12 L81.50,413.10 L81.70,413.12 L81.95,413.21 L82.20,413.34 L82.45,413.50 L82.70,413.67 L82.90,413.80 L82.95,413.83 L83.20,413.98 L83.45,414.14 L83.70,414.31 L83.95,414.51 L84.20,414.74 L84.45,415.01 L84.60,415.20 L84.70,415.34 L84.95,415.81 L85.20,416.44 L85.45,417.23 L85.70,418.18 L85.80,418.60 L85.95,419.42 L86.20,421.37 L86.45,423.77 L86.60,425.30 L86.70,426.37 L86.95,429.46 L87.20,432.91 L87.45,436.49 L87.50,437.20 L87.70,440.16 L87.95,444.09 L88.20,448.04 L88.45,451.80 L88.50,452.50 L88.70,455.23 L88.95,458.52 L89.20,461.69 L89.45,464.74 L89.70,467.70 L89.95,470.66 L90.20,473.60 L90.45,476.36 L90.70,478.77 L90.80,479.60 L90.95,480.75 L91.20,482.55 L91.45,484.20 L91.70,485.67 L91.95,486.98 L92.20,488.10 L92.45,489.09 L92.70,489.96 L92.95,490.71 L93.20,491.30 L93.20,491.40 Z" fill="#0000ff"/>
<path d="M65.40,491.40 L65.40,491.30 L65.60,460.00 L65.65,434.17 L65.68,427.00 L65.90,427.00 L66.12,427.00 L66.15,427.43 L66.40,449.00 L66.65,456.82 L66.80,459.20 L66.90,460.09 L67.15,461.77 L67.40,462.88 L67.60,463.50 L67.65,463.64 L67.90,464.30 L68.15,464.91 L68.40,465.44 L68.65,465.88 L68.90,466.19 L69.15,466.37 L69.30,466.40 L69.40,466.40 L69.65,466.40 L69.90,466.40 L70.15,466.40 L70.40,466.40 L70.50,466.40 L70.65,466.38 L70.90,466.24 L71.15,466.00 L71.40,465.68 L71.65,465.29 L71.90,464.86 L72.15,464.39 L72.20,464.30 L72.40,463.85 L72.65,463.09 L72.90,462.17 L73.15,461.10 L73.40,459.95 L73.65,458.73 L73.90,457.50 L74.15,456.20 L74.40,454.78 L74.65,453.24 L74.90,451.58 L75.15,449.83 L75.25,449.10 L75.40,447.95 L75.65,445.83 L75.90,443.55 L76.15,441.21 L76.40,438.90 L76.65,436.59 L76.90,434.24 L77.15,431.89 L77.40,429.59 L77.50,428.70 L77.65,427.31 L77.90,424.84 L78.15,422.47 L78.40,420.49 L78.60,419.40 L78.65,419.20 L78.90,418.23 L79.15,417.40 L79.40,416.79 L79.65,416.51 L79.70,416.50 L79.90,416.56 L80.15,416.79 L80.40,417.16 L80.65,417.60 L80.70,417.70 L80.90,418.29 L81.15,419.49 L81.40,421.06 L81.65,422.82 L81.90,424.61 L82.00,425.30 L82.15,426.33 L82.40,428.16 L82.65,430.11 L82.90,432.14 L83.15,434.23 L83.40,436.35 L83.65,438.48 L83.70,438.90 L83.90,440.62 L84.15,442.82 L84.40,445.08 L84.65,447.36 L84.90,449.65 L85.15,451.94 L85.40,454.20 L85.65,456.50 L85.90,458.86 L86.15,461.24 L86.40,463.57 L86.65,465.81 L86.90,467.89 L87.10,469.40 L87.15,469.76 L87.40,471.48 L87.65,473.10 L87.90,474.64 L88.15,476.10 L88.40,477.49 L88.65,478.82 L88.80,479.60 L88.90,480.11 L89.15,481.36 L89.40,482.58 L89.65,483.74 L89.90,484.85 L90.15,485.88 L90.40,486.84 L90.50,487.20 L90.65,487.72 L90.90,488.55 L91.15,489.33 L91.40,490.05 L91.65,490.71 L91.90,491.30 L91.90,491.40 Z" fill="#ff0000" fill-opacity="0.5"/>
<line x1="72.20" y1="475.00" x2="72.20" y2="491.40" stroke="#ff0000" stroke-width="0.50" stroke-opacity="0.25"/>
<path d="M61.20,286.25 V491.40 H130.70" fill="none" stroke="#2e2e2e" stroke-width="2" stroke-linejoin="miter"/>
<path d="M61.20,491.40 h3 M61.20,470.98 h3 M61.20,450.56 h3 M61.20,430.14 h3 M61.20,409.72 h3 M61.20,389.30 h3 M61.20,368.88 h3 M61.20,348.46 h3 M61.20,328.04 h3 M61.20,307.62 h3 M61.20,287.20 h3 M61.20,491.40 v-3 M95.45,491.40 v-3 M129.70,491.40 v-3 " stroke="#2e2e2e" stroke-width="1.9" fill="none"/>
<path d="M198.90,491.40 L198.90,491.30 L199.15,474.44 L199.30,465.00 L199.40,457.61 L199.50,453.30 L199.65,460.13 L199.80,468.00 L199.90,469.21 L200.15,470.93 L200.20,471.10 L200.40,471.62 L200.65,472.13 L200.90,472.51 L201.15,472.82 L201.40,473.08 L201.65,473.32 L201.90,473.60 L202.15,473.90 L202.40,474.21 L202.65,474.51 L202.90,474.81 L203.15,475.09 L203.40,475.36 L203.65,475.61 L203.90,475.82 L204.15,476.01 L204.40,476.15 L204.50,476.20 L204.65,476.27 L204.90,476.37 L205.15,476.47 L205.40,476.56 L205.65,476.63 L205.90,476.68 L206.15,476.70 L206.20,476.70 L206.40,476.67 L206.65,476.56 L206.90,476.38 L207.15,476.13 L207.40,475.84 L207.65,475.50 L207.90,475.13 L208.15,474.75 L208.40,474.36 L208.50,474.20 L208.65,473.95 L208.90,473.47 L209.15,472.90 L209.40,472.27 L209.65,471.58 L209.90,470.84 L210.15,470.05 L210.40,469.23 L210.65,468.37 L210.90,467.50 L211.15,466.56 L211.40,465.52 L211.65,464.39 L211.90,463.20 L212.15,461.97 L212.40,460.71 L212.65,459.45 L212.70,459.20 L212.90,458.18 L213.15,456.87 L213.40,455.51 L213.65,454.13 L213.90,452.73 L214.15,451.31 L214.40,449.90 L214.65,448.48 L214.90,447.06 L215.15,445.61 L215.40,444.16 L215.65,442.69 L215.90,441.20 L216.00,440.60 L216.15,439.69 L216.40,438.14 L216.65,436.58 L216.90,435.02 L217.10,433.80 L217.15,433.49 L217.40,431.86 L217.65,430.25 L217.90,428.91 L218.00,428.50 L218.15,427.97 L218.40,427.18 L218.65,426.53 L218.90,426.04 L219.00,425.90 L219.15,425.71 L219.40,425.43 L219.65,425.19 L219.90,425.04 L220.10,425.00 L220.15,425.00 L220.40,425.08 L220.65,425.24 L220.90,425.47 L221.15,425.76 L221.40,426.07 L221.50,426.20 L221.65,426.43 L221.90,426.93 L222.15,427.57 L222.40,428.32 L222.65,429.15 L222.90,430.03 L223.00,430.40 L223.15,430.99 L223.40,432.12 L223.65,433.40 L223.90,434.80 L224.15,436.28 L224.30,437.20 L224.40,437.83 L224.65,439.53 L224.90,441.37 L225.15,443.31 L225.40,445.30 L225.45,445.70 L225.65,447.34 L225.90,449.50 L226.15,451.72 L226.40,453.97 L226.65,456.19 L226.80,457.50 L226.90,458.36 L227.15,460.52 L227.40,462.67 L227.65,464.81 L227.90,466.92 L228.15,468.99 L228.20,469.40 L228.40,471.05 L228.65,473.13 L228.90,475.18 L229.15,477.14 L229.40,478.94 L229.50,479.60 L229.65,480.55 L229.90,482.08 L230.15,483.53 L230.40,484.87 L230.65,486.10 L230.90,487.20 L231.15,488.24 L231.40,489.23 L231.65,490.05 L231.90,490.60 L232.15,490.96 L232.40,491.22 L232.60,491.30 L232.60,491.40 Z" fill="#0000ff"/>
<path d="M199.70,491.40 L199.70,491.30 L199.89,460.00 L199.95,430.40 L200.20,430.40 L200.45,430.40 L200.70,453.05 L200.75,455.80 L200.95,459.88 L201.20,462.93 L201.40,464.30 L201.45,464.56 L201.70,465.73 L201.95,466.66 L202.20,467.40 L202.45,467.98 L202.70,468.44 L202.80,468.60 L202.95,468.82 L203.20,469.16 L203.45,469.45 L203.70,469.71 L203.95,469.93 L204.20,470.12 L204.45,470.27 L204.50,470.30 L204.70,470.41 L204.95,470.54 L205.20,470.66 L205.45,470.75 L205.70,470.80 L205.80,470.80 L205.95,470.77 L206.20,470.63 L206.45,470.37 L206.70,470.03 L206.95,469.62 L207.20,469.17 L207.45,468.69 L207.50,468.60 L207.70,468.16 L207.95,467.46 L208.20,466.63 L208.45,465.69 L208.70,464.68 L208.95,463.64 L209.20,462.60 L209.45,461.53 L209.70,460.38 L209.95,459.18 L210.20,457.91 L210.45,456.61 L210.70,455.28 L210.90,454.20 L210.95,453.93 L211.20,452.51 L211.45,451.01 L211.70,449.48 L211.95,447.92 L212.20,446.38 L212.45,444.87 L212.60,444.00 L212.70,443.43 L212.95,441.99 L213.20,440.56 L213.45,439.15 L213.70,437.78 L213.95,436.45 L214.20,435.19 L214.30,434.70 L214.45,433.98 L214.70,432.80 L214.95,431.65 L215.20,430.56 L215.45,429.57 L215.70,428.70 L215.95,427.84 L216.20,426.98 L216.45,426.24 L216.70,425.79 L216.85,425.70 L216.95,425.74 L217.20,426.10 L217.45,426.76 L217.70,427.57 L217.80,427.90 L217.95,428.50 L218.20,429.88 L218.45,431.56 L218.70,433.34 L218.90,434.70 L218.95,435.03 L219.20,436.71 L219.45,438.45 L219.70,440.22 L219.95,441.99 L220.20,443.72 L220.45,445.38 L220.50,445.70 L220.70,446.95 L220.95,448.46 L221.20,449.93 L221.45,451.37 L221.70,452.82 L221.95,454.29 L222.20,455.80 L222.45,457.38 L222.70,459.03 L222.95,460.72 L223.20,462.41 L223.45,464.08 L223.70,465.68 L223.95,467.20 L224.20,468.60 L224.45,469.90 L224.70,471.13 L224.95,472.32 L225.20,473.45 L225.45,474.55 L225.70,475.62 L225.95,476.67 L226.20,477.70 L226.25,477.90 L226.45,478.72 L226.70,479.73 L226.95,480.73 L227.20,481.70 L227.45,482.65 L227.70,483.55 L227.95,484.40 L228.20,485.20 L228.30,485.50 L228.45,485.94 L228.70,486.63 L228.95,487.29 L229.20,487.92 L229.45,488.51 L229.70,489.07 L229.95,489.60 L230.00,489.70 L230.20,490.09 L230.45,490.56 L230.70,490.98 L230.90,491.30 L230.90,491.40 Z" fill="#ff0000" fill-opacity="0.5"/>
<line x1="205.70" y1="477.00" x2="205.70" y2="491.40" stroke="#ff0000" stroke-width="0.50" stroke-opacity="0.25"/>
<path d="M197.30,286.25 V491.40 H266.80" fill="none" stroke="#2e2e2e" stroke-width="2" stroke-linejoin="miter"/>
<path d="M197.30,491.40 h3 M197.30,470.98 h3 M197.30,450.56 h3 M197.30,430.14 h3 M197.30,409.72 h3 M197.30,389.30 h3 M197.30,368.88 h3 M197.30,348.46 h3 M197.30,328.04 h3 M197.30,307.62 h3 M197.30,287.20 h3 M197.30,491.40 v-3 M231.55,491.40 v-3 M265.80,491.40 v-3 " stroke="#2e2e2e" stroke-width="1.9" fill="none"/>
<path d="M334.35,491.40 L334.35,491.30 L334.50,470.00 L334.60,456.00 L334.85,460.52 L334.90,461.00 L335.10,461.42 L335.35,461.72 L335.40,461.80 L335.60,462.18 L335.85,462.69 L336.10,463.23 L336.35,463.77 L336.60,464.30 L336.85,464.82 L337.10,465.35 L337.35,465.87 L337.60,466.36 L337.85,466.82 L337.90,466.90 L338.10,467.26 L338.35,467.73 L338.60,468.16 L338.85,468.48 L339.10,468.60 L339.35,467.50 L339.60,464.37 L339.70,462.60 L339.85,451.51 L340.00,441.40 L340.10,440.85 L340.35,439.88 L340.60,439.33 L340.85,438.97 L341.10,438.58 L341.30,438.10 L341.35,437.95 L341.60,437.19 L341.85,436.37 L342.10,435.47 L342.35,434.47 L342.50,433.80 L342.60,433.31 L342.85,431.89 L343.10,430.25 L343.35,428.47 L343.60,426.64 L343.85,424.85 L343.90,424.50 L344.10,423.06 L344.35,421.14 L344.60,419.21 L344.85,417.38 L345.10,415.76 L345.20,415.20 L345.35,414.37 L345.60,412.93 L345.85,411.61 L346.10,410.60 L346.35,410.12 L346.40,410.10 L346.60,410.15 L346.85,410.36 L347.10,410.71 L347.35,411.19 L347.60,411.80 L347.85,413.63 L348.10,416.94 L348.35,420.48 L348.40,421.10 L348.60,423.58 L348.80,426.00 L348.85,426.56 L349.10,429.30 L349.35,431.92 L349.60,434.42 L349.85,436.83 L349.90,437.30 L350.10,439.15 L350.35,441.39 L350.60,443.56 L350.85,445.66 L351.10,447.70 L351.20,448.50 L351.35,449.67 L351.60,451.56 L351.85,453.39 L352.10,455.19 L352.35,457.00 L352.50,458.10 L352.60,458.84 L352.85,460.73 L353.10,462.62 L353.35,464.50 L353.60,466.31 L353.80,467.70 L353.85,468.04 L354.10,469.70 L354.35,471.32 L354.60,472.89 L354.85,474.38 L355.10,475.80 L355.35,477.14 L355.60,478.43 L355.85,479.66 L356.10,480.85 L356.35,481.98 L356.40,482.20 L356.60,483.08 L356.85,484.17 L357.10,485.21 L357.35,486.16 L357.60,487.00 L357.85,487.74 L358.10,488.41 L358.35,489.03 L358.60,489.60 L358.85,490.11 L358.90,490.20 L359.10,490.56 L359.35,490.96 L359.60,491.30 L359.60,491.40 Z" fill="#0000ff"/>
<path d="M334.90,491.40 L334.90,491.30 L335.15,475.20 L335.40,464.41 L335.50,462.00 L335.65,460.53 L335.84,458.00 L335.90,448.20 L336.15,448.20 L336.40,448.20 L336.50,448.20 L336.60,458.00 L336.65,458.94 L336.90,461.61 L337.10,462.60 L337.15,462.85 L337.40,464.06 L337.65,465.17 L337.90,466.16 L338.15,467.02 L338.40,467.71 L338.65,468.22 L338.90,468.52 L339.10,468.60 L339.15,468.59 L339.40,468.42 L339.65,468.04 L339.90,467.51 L340.15,466.90 L340.40,466.25 L340.50,466.00 L340.65,465.60 L340.90,464.81 L341.15,463.89 L341.40,462.87 L341.65,461.78 L341.90,460.62 L342.15,459.44 L342.20,459.20 L342.40,458.20 L342.65,456.85 L342.90,455.40 L343.15,453.88 L343.40,452.31 L343.65,450.71 L343.90,449.10 L344.15,447.44 L344.40,445.70 L344.65,443.90 L344.90,442.09 L345.15,440.29 L345.40,438.54 L345.60,437.20 L345.65,436.87 L345.90,435.21 L346.15,433.55 L346.40,431.92 L346.65,430.35 L346.90,428.87 L347.15,427.51 L347.25,427.00 L347.40,426.22 L347.65,424.84 L347.90,423.49 L348.15,422.36 L348.40,421.61 L348.60,421.40 L348.65,421.42 L348.90,422.00 L349.15,423.19 L349.40,424.69 L349.65,426.20 L349.80,427.00 L349.90,427.48 L350.15,428.69 L350.40,429.92 L350.65,431.17 L350.90,432.47 L351.00,433.00 L351.15,433.83 L351.40,435.31 L351.65,436.85 L351.90,438.37 L352.15,439.80 L352.30,440.60 L352.40,441.11 L352.65,442.33 L352.90,443.51 L353.15,444.64 L353.40,445.74 L353.65,446.79 L353.90,447.80 L354.00,448.20 L354.15,448.77 L354.40,449.67 L354.65,450.51 L354.90,451.34 L355.15,452.17 L355.40,453.05 L355.65,454.00 L355.70,454.20 L355.90,455.05 L356.15,456.20 L356.40,457.41 L356.65,458.66 L356.90,459.91 L357.10,460.90 L357.15,461.15 L357.40,462.39 L357.65,463.66 L357.90,464.93 L358.15,466.20 L358.40,467.46 L358.65,468.68 L358.80,469.40 L358.90,469.87 L359.15,471.05 L359.40,472.22 L359.65,473.36 L359.90,474.48 L360.15,475.57 L360.40,476.60 L360.50,477.00 L360.65,477.58 L360.90,478.53 L361.15,479.44 L361.40,480.32 L361.65,481.18 L361.90,482.02 L362.15,482.84 L362.20,483.00 L362.40,483.64 L362.65,484.44 L362.90,485.21 L363.15,485.97 L363.40,486.70 L363.65,487.41 L363.90,488.10 L364.15,488.76 L364.40,489.40 L364.65,490.02 L364.90,490.62 L365.15,491.19 L365.20,491.30 L365.20,491.40 Z" fill="#ff0000" fill-opacity="0.5"/>
<path d="M333.20,286.25 V491.40 H402.70" fill="none" stroke="#2e2e2e" stroke-width="2" stroke-linejoin="miter"/>
<path d="M333.20,491.40 h3 M333.20,470.98 h3 M333.20,450.56 h3 M333.20,430.14 h3 M333.20,409.72 h3 M333.20,389.30 h3 M333.20,368.88 h3 M333.20,348.46 h3 M333.20,328.04 h3 M333.20,307.62 h3 M333.20,287.20 h3 M333.20,491.40 v-3 M367.45,491.40 v-3 M401.70,491.40 v-3 " stroke="#2e2e2e" stroke-width="1.9" fill="none"/>
<path d="M470.50,491.40 L470.50,491.30 L470.75,473.32 L470.80,470.00 L471.00,456.00 L471.20,446.00 L471.25,444.85 L471.50,441.09 L471.60,439.60 L471.75,436.87 L472.00,431.96 L472.25,427.25 L472.30,426.40 L472.50,423.22 L472.75,419.54 L473.00,416.02 L473.20,413.20 L473.25,412.49 L473.50,408.93 L473.75,405.41 L474.00,401.99 L474.10,400.65 L474.25,398.61 L474.50,395.17 L474.75,392.04 L474.90,390.50 L475.00,389.58 L475.25,387.41 L475.50,385.79 L475.60,385.40 L475.75,384.96 L476.00,384.35 L476.25,383.97 L476.40,383.90 L476.50,383.95 L476.75,384.42 L477.00,385.26 L477.25,386.29 L477.30,386.50 L477.50,387.62 L477.75,389.59 L478.00,391.82 L478.10,392.70 L478.25,394.06 L478.50,396.52 L478.75,399.02 L478.80,399.50 L479.00,401.40 L479.25,403.76 L479.50,406.08 L479.60,407.00 L479.75,408.31 L480.00,410.37 L480.25,412.45 L480.50,414.79 L480.60,415.85 L480.75,417.67 L481.00,421.25 L481.25,425.16 L481.50,428.99 L481.60,430.40 L481.75,432.42 L482.00,435.71 L482.25,438.90 L482.50,442.03 L482.70,444.50 L482.75,445.11 L483.00,448.05 L483.25,450.90 L483.50,453.79 L483.75,456.85 L483.80,457.50 L484.00,460.33 L484.25,464.21 L484.50,467.96 L484.70,470.50 L484.75,471.05 L485.00,473.67 L485.25,476.07 L485.50,478.25 L485.75,480.23 L486.00,482.00 L486.25,483.64 L486.50,485.19 L486.75,486.58 L487.00,487.75 L487.20,488.50 L487.25,488.66 L487.50,489.44 L487.75,490.14 L488.00,490.72 L488.25,491.14 L488.40,491.30 L488.40,491.40 Z" fill="#0000ff"/>
<path d="M470.70,491.40 L470.70,491.30 L470.71,450.00 L470.75,423.80 L470.95,423.80 L471.20,423.80 L471.45,423.80 L471.65,423.80 L471.70,441.31 L471.71,443.00 L471.95,449.00 L472.20,451.23 L472.30,452.00 L472.45,453.35 L472.70,455.45 L472.95,457.10 L473.20,458.01 L473.30,458.10 L473.45,457.82 L473.70,456.44 L473.95,454.57 L474.00,454.20 L474.20,452.54 L474.45,449.96 L474.70,447.08 L474.95,444.16 L475.00,443.60 L475.20,441.30 L475.45,438.29 L475.70,435.30 L475.90,433.00 L475.95,432.44 L476.20,429.64 L476.45,426.90 L476.70,424.33 L476.90,422.50 L476.95,422.08 L477.20,420.12 L477.45,418.35 L477.70,416.68 L477.95,414.99 L478.20,413.20 L478.45,411.11 L478.70,408.86 L478.95,406.80 L479.20,405.30 L479.45,404.21 L479.70,403.36 L479.90,403.10 L479.95,403.11 L480.20,403.31 L480.45,403.71 L480.70,404.20 L480.90,404.60 L480.95,404.69 L481.20,405.17 L481.45,405.69 L481.70,406.27 L481.95,406.95 L482.20,407.75 L482.40,408.50 L482.45,408.71 L482.70,410.06 L482.95,411.86 L483.20,414.04 L483.45,416.55 L483.70,419.33 L483.80,420.50 L483.95,422.57 L484.20,426.94 L484.45,431.61 L484.50,432.50 L484.70,436.14 L484.95,440.77 L485.20,445.00 L485.45,448.66 L485.70,452.03 L485.95,455.18 L486.10,457.00 L486.20,458.19 L486.45,461.04 L486.70,463.76 L486.95,466.40 L487.20,469.00 L487.45,471.67 L487.70,474.33 L487.95,476.75 L488.10,478.00 L488.20,478.76 L488.45,480.56 L488.70,482.19 L488.95,483.61 L489.20,484.80 L489.45,485.82 L489.70,486.76 L489.95,487.61 L490.20,488.33 L490.45,488.92 L490.60,489.20 L490.70,489.36 L490.95,489.75 L491.20,490.08 L491.45,490.37 L491.70,490.62 L491.95,490.81 L492.10,490.90 L492.20,490.95 L492.45,491.08 L492.70,491.19 L492.95,491.27 L493.20,491.30 L493.20,491.40 Z" fill="#ff0000" fill-opacity="0.5"/>
<path d="M469.30,286.25 V491.40 H538.80" fill="none" stroke="#2e2e2e" stroke-width="2" stroke-linejoin="miter"/>
<path d="M469.30,491.40 h3 M469.30,470.98 h3 M469.30,450.56 h3 M469.30,430.14 h3 M469.30,409.72 h3 M469.30,389.30 h3 M469.30,368.88 h3 M469.30,348.46 h3 M469.30,328.04 h3 M469.30,307.62 h3 M469.30,287.20 h3 M469.30,491.40 v-3 M503.55,491.40 v-3 M537.80,491.40 v-3 " stroke="#2e2e2e" stroke-width="1.9" fill="none"/>
<path d="M606.85,491.40 L606.85,491.30 L607.10,484.00 L607.35,473.40 L607.50,467.00 L607.60,463.39 L607.85,455.19 L608.00,450.00 L608.10,446.04 L608.35,435.74 L608.40,434.00 L608.60,428.06 L608.85,421.58 L608.90,420.30 L609.10,415.32 L609.35,409.38 L609.60,403.30 L609.85,396.80 L610.10,390.17 L610.25,386.30 L610.35,383.92 L610.60,377.96 L610.65,376.50 L610.85,368.36 L610.90,366.70 L611.10,362.14 L611.35,357.53 L611.40,356.50 L611.60,351.73 L611.80,347.40 L611.85,346.58 L612.10,343.16 L612.30,340.65 L612.35,339.89 L612.60,336.70 L612.85,336.75 L613.10,336.91 L613.35,337.18 L613.40,337.25 L613.60,339.57 L613.85,345.23 L613.90,346.30 L614.10,350.91 L614.30,355.40 L614.35,356.28 L614.60,359.95 L614.70,362.00 L614.85,367.55 L614.90,370.00 L615.00,376.50 L615.10,380.51 L615.35,387.70 L615.50,392.00 L615.60,395.30 L615.85,403.85 L616.00,409.00 L616.10,412.35 L616.35,420.67 L616.50,426.00 L616.60,430.00 L616.70,434.00 L616.85,439.50 L617.00,444.30 L617.10,446.98 L617.35,452.77 L617.50,455.65 L617.60,457.35 L617.85,461.09 L618.10,464.39 L618.30,467.00 L618.35,467.67 L618.60,471.12 L618.85,474.45 L619.10,477.34 L619.20,478.30 L619.35,479.59 L619.60,481.53 L619.85,483.20 L620.10,484.61 L620.20,485.10 L620.35,485.78 L620.60,486.83 L620.85,487.75 L621.10,488.52 L621.35,489.10 L621.60,489.56 L621.85,489.96 L622.10,490.31 L622.35,490.61 L622.60,490.85 L622.80,491.00 L622.85,491.03 L623.10,491.18 L623.35,491.29 L623.40,491.30 L623.40,491.40 Z" fill="#0000ff"/>
<path d="M606.40,491.40 L606.40,491.30 L606.60,484.00 L606.65,482.05 L606.90,471.68 L607.00,467.00 L607.15,458.24 L607.30,450.00 L607.40,446.39 L607.65,439.52 L607.80,434.00 L607.90,427.56 L608.00,420.30 L608.15,411.29 L608.30,403.30 L608.40,398.82 L608.65,388.65 L608.70,386.30 L608.90,375.00 L609.10,366.00 L609.15,363.75 L609.30,357.60 L609.40,354.75 L609.65,349.11 L609.80,346.30 L609.90,344.56 L610.15,340.76 L610.40,337.25 L610.65,333.69 L610.90,330.50 L611.15,327.40 L611.40,325.07 L611.50,324.80 L611.65,325.28 L611.90,327.42 L612.10,329.30 L612.15,329.69 L612.40,331.51 L612.65,333.42 L612.90,335.95 L613.00,337.25 L613.15,340.39 L613.40,347.40 L613.65,353.46 L613.80,357.60 L613.90,361.00 L614.10,369.00 L614.15,371.11 L614.30,378.00 L614.40,383.24 L614.55,392.00 L614.65,398.37 L614.80,409.00 L614.90,417.34 L615.00,426.00 L615.10,434.00 L615.15,436.36 L615.40,444.30 L615.65,450.52 L615.90,455.65 L616.15,460.00 L616.40,463.88 L616.60,467.00 L616.65,467.82 L616.90,472.02 L617.15,476.09 L617.30,478.30 L617.40,479.67 L617.65,482.91 L617.90,485.71 L617.95,486.20 L618.15,488.02 L618.40,490.01 L618.60,491.30 L618.60,491.40 Z" fill="#ff0000" fill-opacity="0.5"/>
<path d="M605.40,286.25 V491.40 H674.90" fill="none" stroke="#2e2e2e" stroke-width="2" stroke-linejoin="miter"/>
<path d="M605.40,491.40 h3 M605.40,470.98 h3 M605.40,450.56 h3 M605.40,430.14 h3 M605.40,409.72 h3 M605.40,389.30 h3 M605.40,368.88 h3 M605.40,348.46 h3 M605.40,328.04 h3 M605.40,307.62 h3 M605.40,287.20 h3 M605.40,491.40 v-3 M639.65,491.40 v-3 M673.90,491.40 v-3 " stroke="#2e2e2e" stroke-width="1.9" fill="none"/>
<rect x="89.9" y="27.8" width="24.4" height="7.9" fill="#0000ff"/>
<rect x="89.9" y="42.1" width="24.4" height="7.9" fill="#ff8080"/>
</svg>
<div class="t" style="left:94.65px;width:100px;margin-left:-50px;text-align:center;top:-2.25px;">S1-M1</div>
<div class="t" style="right:629.10px;text-align:right;top:218.65px;">0</div>
<div class="t" style="right:629.10px;text-align:right;top:177.71px;">0.02</div>
<div class="t" style="right:629.10px;text-align:right;top:136.77px;">0.04</div>
<div class="t" style="right:629.10px;text-align:right;top:95.83px;">0.06</div>
<div class="t" style="right:629.10px;text-align:right;top:54.89px;">0.08</div>
<div class="t" style="right:629.10px;text-align:right;top:13.95px;">0.1</div>
<div class="t" style="left:60.90px;width:100px;margin-left:-50px;text-align:center;top:231.35px;">0</div>
<div class="t" style="left:95.15px;width:100px;margin-left:-50px;text-align:center;top:231.35px;">50</div>
<div class="t" style="left:129.40px;width:100px;margin-left:-50px;text-align:center;top:231.35px;">100</div>
<div class="t" style="left:230.75px;width:100px;margin-left:-50px;text-align:center;top:-2.25px;">S1-M2</div>
<div class="t" style="right:493.00px;text-align:right;top:218.65px;">0</div>
<div class="t" style="right:493.00px;text-align:right;top:177.71px;">0.02</div>
<div class="t" style="right:493.00px;text-align:right;top:136.77px;">0.04</div>
<div class="t" style="right:493.00px;text-align:right;top:95.83px;">0.06</div>
<div class="t" style="right:493.00px;text-align:right;top:54.89px;">0.08</div>
<div class="t" style="right:493.00px;text-align:right;top:13.95px;">0.1</div>
<div class="t" style="left:197.00px;width:100px;margin-left:-50px;text-align:center;top:231.35px;">0</div>
<div class="t" style="left:231.25px;width:100px;margin-left:-50px;text-align:center;top:231.35px;">50</div>
<div class="t" style="left:265.50px;width:100px;margin-left:-50px;text-align:center;top:231.35px;">100</div>
<div class="t" style="left:366.65px;width:100px;margin-left:-50px;text-align:center;top:-2.25px;">S1-M4</div>
<div class="t" style="right:357.10px;text-align:right;top:218.65px;">0</div>
<div class="t" style="right:357.10px;text-align:right;top:177.71px;">0.02</div>
<div class="t" style="right:357.10px;text-align:right;top:136.77px;">0.04</div>
<div class="t" style="right:357.10px;text-align:right;top:95.83px;">0.06</div>
<div class="t" style="right:357.10px;text-align:right;top:54.89px;">0.08</div>
<div class="t" style="right:357.10px;text-align:right;top:13.95px;">0.1</div>
<div class="t" style="left:332.90px;width:100px;margin-left:-50px;text-align:center;top:231.35px;">0</div>
<div class="t" style="left:367.15px;width:100px;margin-left:-50px;text-align:center;top:231.35px;">50</div>
<div class="t" style="left:401.40px;width:100px;margin-left:-50px;text-align:center;top:231.35px;">100</div>
<div class="t" style="left:502.75px;width:100px;margin-left:-50px;text-align:center;top:-2.25px;">S1-M6</div>
<div class="t" style="right:221.00px;text-align:right;top:218.65px;">0</div>
<div class="t" style="right:221.00px;text-align:right;top:177.71px;">0.02</div>
<div class="t" style="right:221.00px;text-align:right;top:136.77px;">0.04</div>
<div class="t" style="right:221.00px;text-align:right;top:95.83px;">0.06</div>
<div class="t" style="right:221.00px;text-align:right;top:54.89px;">0.08</div>
<div class="t" style="right:221.00px;text-align:right;top:13.95px;">0.1</div>
<div class="t" style="left:469.00px;width:100px;margin-left:-50px;text-align:center;top:231.35px;">0</div>
<div class="t" style="left:503.25px;width:100px;margin-left:-50px;text-align:center;top:231.35px;">50</div>
<div class="t" style="left:537.50px;width:100px;margin-left:-50px;text-align:center;top:231.35px;">100</div>
<div class="t" style="left:638.85px;width:100px;margin-left:-50px;text-align:center;top:-2.25px;">S1-M8</div>
<div class="t" style="right:84.90px;text-align:right;top:218.65px;">0</div>
<div class="t" style="right:84.90px;text-align:right;top:177.71px;">0.02</div>
<div class="t" style="right:84.90px;text-align:right;top:136.77px;">0.04</div>
<div class="t" style="right:84.90px;text-align:right;top:95.83px;">0.06</div>
<div class="t" style="right:84.90px;text-align:right;top:54.89px;">0.08</div>
<div class="t" style="right:84.90px;text-align:right;top:13.95px;">0.1</div>
<div class="t" style="left:605.10px;width:100px;margin-left:-50px;text-align:center;top:231.35px;">0</div>
<div class="t" style="left:639.35px;width:100px;margin-left:-50px;text-align:center;top:231.35px;">50</div>
<div class="t" style="left:673.60px;width:100px;margin-left:-50px;text-align:center;top:231.35px;">100</div>
<div class="t" style="left:10.80px;top:112.70px;width:100px;margin-left:-50px;text-align:center;transform:rotate(-90deg);transform-origin:50% 12.85px;">p(tSNR)</div>
<div class="t" style="left:94.65px;width:100px;margin-left:-50px;text-align:center;top:261.75px;">S2-M1</div>
<div class="t" style="right:629.10px;text-align:right;top:483.65px;">0</div>
<div class="t" style="right:629.10px;text-align:right;top:442.81px;">0.02</div>
<div class="t" style="right:629.10px;text-align:right;top:401.97px;">0.04</div>
<div class="t" style="right:629.10px;text-align:right;top:361.13px;">0.06</div>
<div class="t" style="right:629.10px;text-align:right;top:320.29px;">0.08</div>
<div class="t" style="right:629.10px;text-align:right;top:279.45px;">0.1</div>
<div class="t" style="left:60.90px;width:100px;margin-left:-50px;text-align:center;top:495.45px;">0</div>
<div class="t" style="left:95.15px;width:100px;margin-left:-50px;text-align:center;top:495.45px;">50</div>
<div class="t" style="left:129.40px;width:100px;margin-left:-50px;text-align:center;top:495.45px;">100</div>
<div class="t" style="left:99.65px;width:100px;margin-left:-50px;text-align:center;top:516.35px;">tSNR</div>
<div class="t" style="left:230.75px;width:100px;margin-left:-50px;text-align:center;top:261.75px;">S2-M2</div>
<div class="t" style="right:493.00px;text-align:right;top:483.65px;">0</div>
<div class="t" style="right:493.00px;text-align:right;top:442.81px;">0.02</div>
<div class="t" style="right:493.00px;text-align:right;top:401.97px;">0.04</div>
<div class="t" style="right:493.00px;text-align:right;top:361.13px;">0.06</div>
<div class="t" style="right:493.00px;text-align:right;top:320.29px;">0.08</div>
<div class="t" style="right:493.00px;text-align:right;top:279.45px;">0.1</div>
<div class="t" style="left:197.00px;width:100px;margin-left:-50px;text-align:center;top:495.45px;">0</div>
<div class="t" style="left:231.25px;width:100px;margin-left:-50px;text-align:center;top:495.45px;">50</div>
<div class="t" style="left:265.50px;width:100px;margin-left:-50px;text-align:center;top:495.45px;">100</div>
<div class="t" style="left:235.75px;width:100px;margin-left:-50px;text-align:center;top:516.35px;">tSNR</div>
<div class="t" style="left:366.65px;width:100px;margin-left:-50px;text-align:center;top:261.75px;">S2-M4</div>
<div class="t" style="right:357.10px;text-align:right;top:483.65px;">0</div>
<div class="t" style="right:357.10px;text-align:right;top:442.81px;">0.02</div>
<div class="t" style="right:357.10px;text-align:right;top:401.97px;">0.04</div>
<div class="t" style="right:357.10px;text-align:right;top:361.13px;">0.06</div>
<div class="t" style="right:357.10px;text-align:right;top:320.29px;">0.08</div>
<div class="t" style="right:357.10px;text-align:right;top:279.45px;">0.1</div>
<div class="t" style="left:332.90px;width:100px;margin-left:-50px;text-align:center;top:495.45px;">0</div>
<div class="t" style="left:367.15px;width:100px;margin-left:-50px;text-align:center;top:495.45px;">50</div>
<div class="t" style="left:401.40px;width:100px;margin-left:-50px;text-align:center;top:495.45px;">100</div>
<div class="t" style="left:371.65px;width:100px;margin-left:-50px;text-align:center;top:516.35px;">tSNR</div>
<div class="t" style="left:502.75px;width:100px;margin-left:-50px;text-align:center;top:261.75px;">S2-M6</div>
<div class="t" style="right:221.00px;text-align:right;top:483.65px;">0</div>
<div class="t" style="right:221.00px;text-align:right;top:442.81px;">0.02</div>
<div class="t" style="right:221.00px;text-align:right;top:401.97px;">0.04</div>
<div class="t" style="right:221.00px;text-align:right;top:361.13px;">0.06</div>
<div class="t" style="right:221.00px;text-align:right;top:320.29px;">0.08</div>
<div class="t" style="right:221.00px;text-align:right;top:279.45px;">0.1</div>
<div class="t" style="left:469.00px;width:100px;margin-left:-50px;text-align:center;top:495.45px;">0</div>
<div class="t" style="left:503.25px;width:100px;margin-left:-50px;text-align:center;top:495.45px;">50</div>
<div class="t" style="left:537.50px;width:100px;margin-left:-50px;text-align:center;top:495.45px;">100</div>
<div class="t" style="left:507.75px;width:100px;margin-left:-50px;text-align:center;top:516.35px;">tSNR</div>
<div class="t" style="left:638.85px;width:100px;margin-left:-50px;text-align:center;top:261.75px;">S2-M8</div>
<div class="t" style="right:84.90px;text-align:right;top:483.65px;">0</div>
<div class="t" style="right:84.90px;text-align:right;top:442.81px;">0.02</div>
<div class="t" style="right:84.90px;text-align:right;top:401.97px;">0.04</div>
<div class="t" style="right:84.90px;text-align:right;top:361.13px;">0.06</div>
<div class="t" style="right:84.90px;text-align:right;top:320.29px;">0.08</div>
<div class="t" style="right:84.90px;text-align:right;top:279.45px;">0.1</div>
<div class="t" style="left:605.10px;width:100px;margin-left:-50px;text-align:center;top:495.45px;">0</div>
<div class="t" style="left:639.35px;width:100px;margin-left:-50px;text-align:center;top:495.45px;">50</div>
<div class="t" style="left:673.60px;width:100px;margin-left:-50px;text-align:center;top:495.45px;">100</div>
<div class="t" style="left:643.85px;width:100px;margin-left:-50px;text-align:center;top:516.35px;">tSNR</div>
<div class="t" style="left:10.80px;top:376.45px;width:100px;margin-left:-50px;text-align:center;transform:rotate(-90deg);transform-origin:50% 12.85px;">p(tSNR)</div>
<div class="t" style="left:120.10px;top:24.05px;">20 Ch</div>
<div class="t" style="left:120.10px;top:37.95px;">64 Ch</div>
</body></html>
